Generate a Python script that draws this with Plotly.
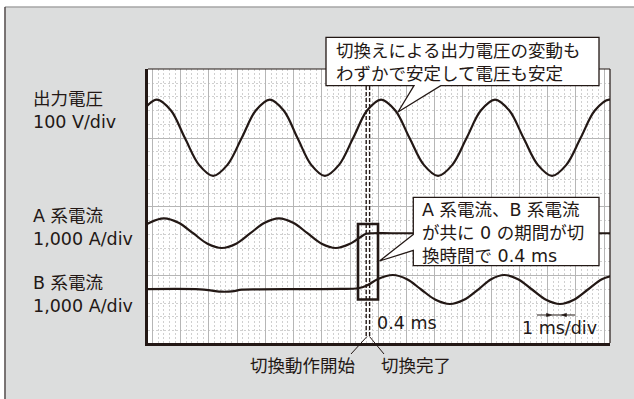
import plotly.graph_objects as go

# ---------------- data (time: grid divisions, value: vertical divisions) ----------------
volt_t = [-1.84, -1.34, -0.84, -0.345, 0.15, 0.65, 1.15, 1.655, 2.16, 2.66, 3.16, 3.65,
          4.14, 4.625, 5.11, 5.61, 6.11, 6.605, 7.10, 7.605, 8.11, 8.615, 9.12, 9.625,
          10.13, 10.635, 11.14, 11.645, 12.15, 12.655, 13.16, 13.665, 14.17, 14.675,
          15.18, 15.685, 16.19]
volt_y = [3.00, 3.40, 3.56, 3.40, 3.00, 2.61, 2.45, 2.61, 3.00, 3.40, 3.56, 3.40,
          3.00, 2.61, 2.45, 2.61, 3.00, 3.40, 3.56, 3.40, 3.00, 2.61, 2.45, 2.61,
          3.00, 3.40, 3.56, 3.40, 3.00, 2.61, 2.45, 2.61, 3.00, 3.40,
          3.56, 3.40, 3.00]

ia_t = [-1.62, -1.105, -0.59, -0.075, 0.44, 0.95, 1.46, 1.965, 2.47, 2.975, 3.48, 3.985,
        4.49, 4.995, 5.50, 6.00, 6.30, 6.57, 6.80, 7.50, 15.60]
ia_y = [1.616, 1.769, 1.833, 1.769, 1.616, 1.463, 1.401, 1.463, 1.616, 1.769, 1.833, 1.769,
        1.616, 1.463, 1.401, 1.463, 1.540, 1.607, 1.615, 1.615, 1.615]

ib_t = [-1.80, 0.68, 1.11, 1.46, 1.82, 2.17, 2.81, 4.23, 5.65, 6.28, 6.60, 6.99, 7.52,
        8.02, 8.52, 9.03, 9.54, 10.04, 10.54, 11.00, 11.46, 11.955, 12.45, 12.945,
        13.44, 13.935, 14.43, 14.925, 15.42]
ib_y = [0.800, 0.800, 0.780, 0.765, 0.770, 0.795, 0.800, 0.802, 0.805, 0.815, 0.855, 0.950, 1.008,
        0.946, 0.797, 0.648, 0.586, 0.648, 0.797, 0.946, 1.008, 0.946, 0.797, 0.648,
        0.586, 0.648, 0.797, 0.946, 1.008]

switch_start = 6.573
switch_end = 6.694
zero_window_t = [6.283, 6.992]
zero_window_y = [0.652, 1.750]

left_labels = [("出力電圧", "100 V/div"), ("A 系電流", "1,000 A/div"), ("B 系電流", "1,000 A/div")]
callout1 = ["切換えによる出力電圧の変動も", "わずかで安定して電圧も安定"]
callout2 = ["A 系電流、B 系電流", "が共に 0 の期間が切", "換時間で 0.4 ms"]
label_start = "切換動作開始"
label_end = "切換完了"
label_gap = "0.4 ms"
label_scale = "1 ms/div"

# ---------------- layout helpers ----------------
INK = "#231815"
FONT = "DejaVu Sans, Noto Sans CJK JP, sans-serif"
L, R, T, B = 148, 610, 69, 343
W, H = R - L, B - T


def X(px):
    return (px - L) / W


def Y(py):
    return (B - py) / H


def path(pts, close=True):
    s = "M " + " L ".join(f"{X(x):.5f},{Y(y):.5f}" for x, y in pts)
    return s + (" Z" if close else "")


def txt(s, px, py, size=17.5):
    return dict(text=s, x=X(px), y=Y(py), xref="paper", yref="paper",
                xanchor="left", yanchor="middle", align="left", showarrow=False,
                borderpad=0, borderwidth=0,
                font=dict(family=FONT, size=size, color=INK))


fig = go.Figure()
line_style = dict(color=INK, width=2.2, shape="spline", smoothing=1.0)
fig.add_trace(go.Scatter(x=volt_t, y=volt_y, mode="lines", line=line_style, hoverinfo="skip"))
fig.add_trace(go.Scatter(x=ia_t, y=ia_y, mode="lines", line=line_style, hoverinfo="skip"))
fig.add_trace(go.Scatter(x=ib_t, y=ib_y, mode="lines", line=line_style, hoverinfo="skip"))

shapes = []
# outer frame (white margin strips + frame lines)
shapes.append(dict(type="rect", xref="paper", yref="paper", x0=X(-2), x1=X(640), y0=Y(-2), y1=Y(6.5),
                   fillcolor="white", line=dict(width=0), layer="below"))
shapes.append(dict(type="rect", xref="paper", yref="paper", x0=X(-2), x1=X(4.5), y0=Y(-2), y1=Y(402),
                   fillcolor="white", line=dict(width=0), layer="below"))
shapes.append(dict(type="line", xref="paper", yref="paper", x0=X(5), x1=X(640), y0=Y(7), y1=Y(7),
                   line=dict(color="#8a8a8a", width=1.2), layer="below"))
shapes.append(dict(type="line", xref="paper", yref="paper", x0=X(5), x1=X(5), y0=Y(7), y1=Y(402),
                   line=dict(color="#4a4242", width=1.4), layer="below"))
# thin top / right plot border
shapes.append(dict(type="line", xref="paper", yref="paper", x0=0, x1=1, y0=1, y1=1,
                   line=dict(color=INK, width=1.2)))
shapes.append(dict(type="line", xref="paper", yref="paper", x0=1, x1=1, y0=0, y1=1,
                   line=dict(color=INK, width=1.2)))
# switching dashed lines
for xs in (switch_start, switch_end):
    shapes.append(dict(type="line", xref="x", yref="paper", x0=xs, x1=xs, y0=Y(336), y1=1,
                       line=dict(color=INK, width=1.4, dash="4px,2px")))
# leader lines to bottom labels
shapes.append(dict(type="path", xref="paper", yref="paper",
                   path=path([(367.0, 336.5), (351.0, 354.0)], close=False),
                   line=dict(color=INK, width=1.0)))
shapes.append(dict(type="path", xref="paper", yref="paper",
                   path=path([(369.5, 336.5), (384.0, 354.0)], close=False),
                   line=dict(color=INK, width=1.0)))
# zero-current window rectangle
shapes.append(dict(type="rect", xref="x", yref="y", x0=zero_window_t[0], x1=zero_window_t[1],
                   y0=zero_window_y[0], y1=zero_window_y[1], line=dict(color=INK, width=2.6)))
# callout 1
shapes.append(dict(type="path", xref="paper", yref="paper",
                   path=path([(326, 37.3), (599, 37.3), (599, 85.7), (440.7, 85.7), (398.0, 112.0),
                              (414.0, 85.7), (326, 85.7)]),
                   fillcolor="white", line=dict(color=INK, width=1.3)))
# callout 2
shapes.append(dict(type="path", xref="paper", yref="paper",
                   path=path([(413.3, 197.3), (599, 197.3), (599, 265.7), (413.3, 265.7), (413.3, 250.5),
                              (379.5, 261.0), (413.3, 234.5)]),
                   fillcolor="white", line=dict(color=INK, width=1.3)))
# 1 ms/div dimension arrows
shapes.append(dict(type="line", xref="paper", yref="paper", x0=X(537), x1=X(575), y0=Y(315), y1=Y(315),
                   line=dict(color=INK, width=1.0)))
shapes.append(dict(type="path", xref="paper", yref="paper",
                   path=path([(546.5, 313.3), (551.5, 315), (546.5, 316.7)]),
                   fillcolor=INK, line=dict(color=INK, width=0.5)))
shapes.append(dict(type="path", xref="paper", yref="paper",
                   path=path([(566.5, 313.3), (561.5, 315), (566.5, 316.7)]),
                   fillcolor=INK, line=dict(color=INK, width=0.5)))

ann = []
for (l1, l2), yc in zip(left_labels, [110.8, 227.3, 294.0]):
    ann.append(txt(l1 + "<br>" + l2, 33.3, yc))
ann.append(txt("<br>".join(callout1), 335.7, 62.2))
ann.append(txt("<br>".join(callout2), 422.3, 232.6))
ann.append(txt(label_gap, 376.7, 323.0))
ann.append(txt(label_scale, 522.3, 328.3))
ann.append(txt(label_start, 250.0, 365.7))
ann.append(txt(label_end, 380.7, 365.7))

axis_common = dict(showticklabels=False, ticks="", zeroline=False, showline=True,
                   linecolor=INK, linewidth=2.6, fixedrange=True,
                   showgrid=True, gridcolor="#b6b6b6", gridwidth=1)
minor_grid = dict(dtick=0.2, tick0=0, showgrid=True, gridcolor="#d0d0d0",
                  griddash="2px,2px", gridwidth=1)
fig.update_layout(
    width=634, height=399,
    margin=dict(l=L, r=634 - R, t=T, b=399 - B, pad=0),
    paper_bgcolor="#dcdddd", plot_bgcolor="white",
    showlegend=False,
    xaxis=dict(range=[-1.1588, 15.2126], dtick=1, tick0=0, minor=minor_grid, **axis_common),
    yaxis=dict(range=[0.0189, 4.0044], dtick=1, tick0=0, minor=minor_grid, **axis_common),
    shapes=shapes,
    annotations=ann,
)

fig.write_html("out.html", config={"displayModeBar": False, "staticPlot": True},
               post_script="document.body.style.margin='0px';")
